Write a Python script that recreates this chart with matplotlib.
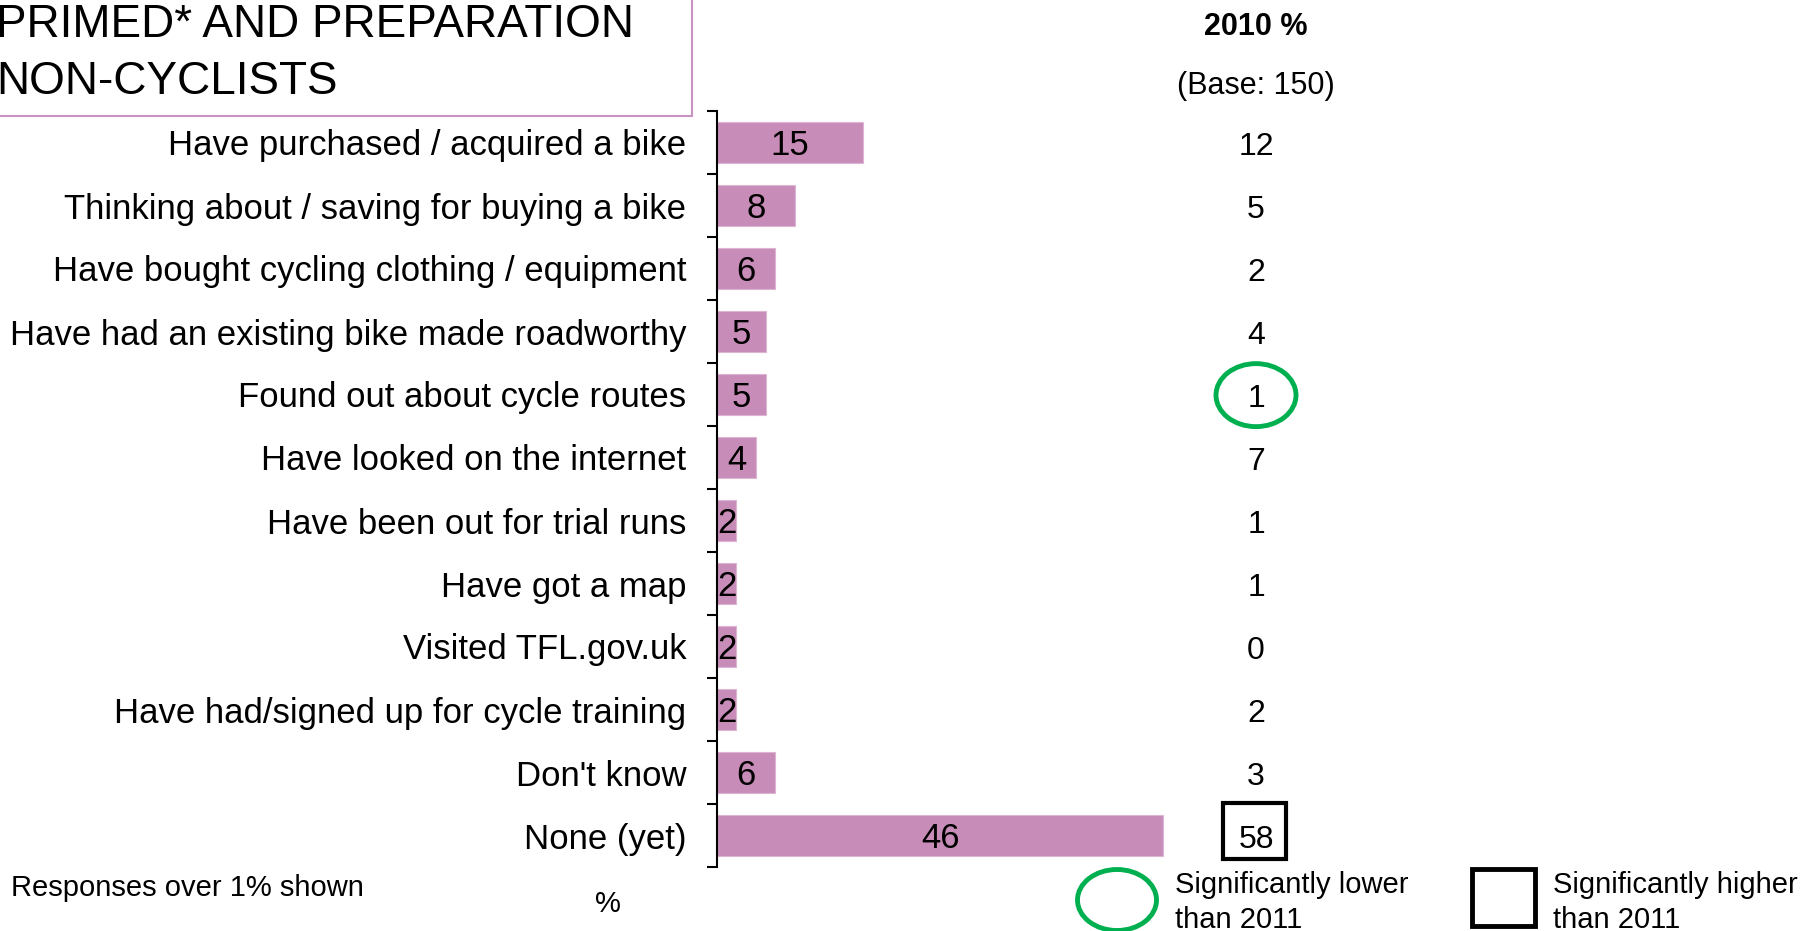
import matplotlib.pyplot as plt
from matplotlib.patches import Ellipse, Rectangle
from matplotlib.transforms import blended_transform_factory

plt.rcParams['font.family'] = ['Liberation Sans', 'DejaVu Sans']

# data
categories = ["Have purchased / acquired a bike",
              "Thinking about / saving for buying a bike",
              "Have bought cycling clothing / equipment",
              "Have had an existing bike made roadworthy",
              "Found out about cycle routes",
              "Have looked on the internet",
              "Have been out for trial runs",
              "Have got a map",
              "Visited TFL.gov.uk",
              "Have had/signed up for cycle training",
              "Don't know",
              "None (yet)"]
values_2011 = [15, 8, 6, 5, 5, 4, 2, 2, 2, 2, 6, 46]
values_2010 = [12, 5, 2, 4, 1, 7, 1, 1, 0, 2, 3, 58]
lower_than_2011 = [4]    # rows circled green
higher_than_2011 = [11]  # rows boxed black

W, H = 1802, 931
fig = plt.figure(figsize=(W / 100, H / 100), dpi=100)

def fx(px):
    return px / W

def fy(py):
    return 1 - py / H

bar_col = '#c88cb9'

ax = fig.add_axes([fx(717), fy(867), fx(1202) - fx(717), fy(111) - fy(867)])
y = list(range(len(categories)))
ax.barh(y, values_2011, height=0.66, color=bar_col, edgecolor='#ddb5d2', linewidth=0.8)
ax.set_xlim(0, 50)
ax.set_ylim(len(categories) - 0.5, -0.5)

# labels inside the bars (baseline a bit under the row centre)
for i, v in enumerate(values_2011):
    ax.text(v / 2, i + 0.2, str(v), ha='center', va='baseline', fontsize=25)

for s in ['top', 'right', 'bottom']:
    ax.spines[s].set_visible(False)
ax.spines['left'].set_linewidth(1.5)
ax.set_xticks([])
ax.set_yticks(y)
ax.set_yticklabels(categories, fontsize=25)
ax.tick_params(axis='y', which='major', length=0, pad=22)
ax.set_yticks([i - 0.5 for i in range(len(categories) + 1)], minor=True)
ax.tick_params(axis='y', which='minor', length=7.5, width=1.5, direction='out')

# 2010 column
col = blended_transform_factory(fig.transFigure, ax.transData)
cx = fx(1256)
fig.text(cx, fy(27), "2010 %", ha='center', va='center', fontsize=22, fontweight='bold')
fig.text(cx, fy(86), "(Base: 150)", ha='center', va='center', fontsize=22)
for i, v in enumerate(values_2010):
    ax.text(cx, i + 0.2, str(v), transform=col, ha='center', va='baseline', fontsize=23,
            clip_on=False)
    if i in lower_than_2011:
        ax.add_patch(Ellipse((cx, i + 0.01), 80 / W, 1.0, transform=col, fill=False,
                             edgecolor='#00b050', linewidth=3.5, clip_on=False))
    if i in higher_than_2011:
        ax.add_patch(Rectangle((fx(1223), i - 0.52), 63 / W, 0.9, transform=col, fill=False,
                               edgecolor='black', linewidth=3, clip_on=False))

# title box (cut off at the top left, as in the slide)
fig.patches.append(Rectangle((fx(-20), fy(116)), fx(692) - fx(-20), fy(-20) - fy(116),
                             transform=fig.transFigure, fill=False,
                             edgecolor='#c994bf', linewidth=1.5))
fig.text(fx(-4), fy(37), "PRIMED* AND PREPARATION", ha='left', va='baseline', fontsize=33)
fig.text(fx(-4), fy(94), "NON-CYCLISTS", ha='left', va='baseline', fontsize=33)

# footnotes
fig.text(fx(11), fy(888), "Responses over 1% shown", ha='left', va='center', fontsize=21)
fig.text(fx(608), fy(904), "%", ha='center', va='center', fontsize=21)

# legend
fig.patches.append(Ellipse((fx(1117), fy(900)), 79 / W, 61 / H, transform=fig.transFigure,
                           fill=False, edgecolor='#00b050', linewidth=3.5))
fig.text(fx(1175), fy(893), "Significantly lower", ha='left', va='baseline', fontsize=21)
fig.text(fx(1175), fy(928), "than 2011", ha='left', va='baseline', fontsize=21)
fig.patches.append(Rectangle((fx(1472), fy(926)), 63 / W, 57 / H, transform=fig.transFigure,
                             fill=False, edgecolor='black', linewidth=3.5))
fig.text(fx(1553), fy(893), "Significantly higher", ha='left', va='baseline', fontsize=21)
fig.text(fx(1553), fy(928), "than 2011", ha='left', va='baseline', fontsize=21)

fig.savefig('out.png', dpi=100)
